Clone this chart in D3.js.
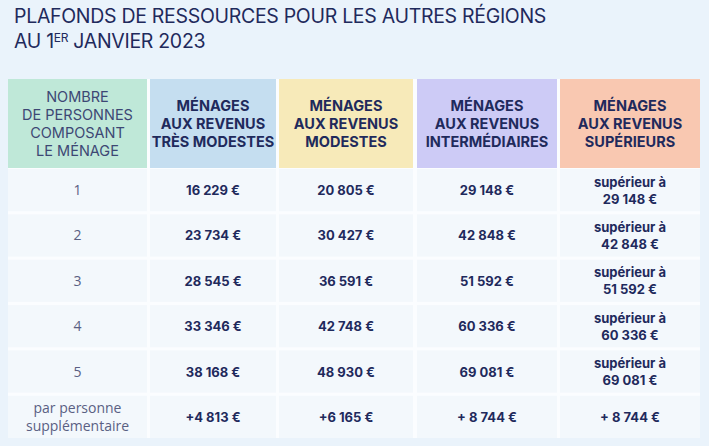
<!DOCTYPE html>
<html lang="fr">
<head>
<meta charset="utf-8">
<script src="https://cdn.jsdelivr.net/npm/d3@7"></script>
<style>
  html, body { margin: 0; padding: 0; background: #eaf3fb; }
  svg { display: block; }
</style>
</head>
<body>
<div id="chart"></div>
<script>
// Table data
const titleLines = ["PLAFONDS DE RESSOURCES POUR LES AUTRES RÉGIONS", "AU 1"];
const rowLabels = [["1"], ["2"], ["3"], ["4"], ["5"], ["par personne", "supplémentaire"]];
const firstHeader = ["NOMBRE", "DE PERSONNES", "COMPOSANT", "LE MÉNAGE"];
const categoryHeaders = [
  ["MÉNAGES", "AUX REVENUS", "TRÈS MODESTES"],
  ["MÉNAGES", "AUX REVENUS", "MODESTES"],
  ["MÉNAGES", "AUX REVENUS", "INTERMÉDIAIRES"],
  ["MÉNAGES", "AUX REVENUS", "SUPÉRIEURS"]
];
const tresModestes = [16229, 23734, 28545, 33346, 38168, 4813];
const modestes = [20805, 30427, 36591, 42748, 48930, 6165];
const intermediaires = [29148, 42848, 51592, 60336, 69081, 8744];
const superieurs = [29148, 42848, 51592, 60336, 69081, 8744];

// Layout
const width = 709, height = 446;
const headerColors = ["#bfe8d8", "#c5def0", "#f7eab9", "#cdcbf6", "#f9c8b1"];
const colEdges = [[8, 147], [150, 276], [279, 413], [417, 557], [560, 700]];
const navy = "#1f2a5c";

const svg = d3.select("#chart").append("svg")
  .attr("width", width)
  .attr("height", height);

svg.append("rect").attr("width", width).attr("height", height).attr("fill", "#eaf3fb");

// Title
const title = svg.append("g").attr("fill", navy)
  .style("font-family", "Inter, sans-serif")
  .style("font-size", "19.5px")
  .style("letter-spacing", "-0.3px");
title.append("text").attr("x", 14).attr("y", 23).text(titleLines[0]);
const t2 = title.append("text").attr("x", 14).attr("y", 48);
t2.append("tspan").text(titleLines[1]);
t2.append("tspan").attr("dy", -6).style("font-size", "12px").text("ER");
t2.append("tspan").attr("dy", 6).text(" JANVIER 2023");

// Scales
const x0 = d3.scaleOrdinal().domain(d3.range(5)).range(colEdges.map((d) => d[0]));
const x1 = d3.scaleOrdinal().domain(d3.range(5)).range(colEdges.map((d) => d[1]));
const y = d3.scaleBand().domain(d3.range(rowLabels.length)).range([169, 438]).paddingInner(0.07);

// White table background (shows as gaps)
svg.append("rect")
  .attr("x", 8).attr("y", 79)
  .attr("width", 692).attr("height", 438 - 79)
  .attr("fill", "#fbfdff");

// Header cells
const headerTop = 79, headerBottom = 168;
const headerG = svg.append("g");
headerG.selectAll("rect")
  .data(d3.range(5))
  .join("rect")
  .attr("x", (d) => x0(d))
  .attr("y", headerTop)
  .attr("width", (d) => x1(d) - x0(d))
  .attr("height", headerBottom - headerTop)
  .attr("fill", (d, i) => headerColors[i]);

const headers = [firstHeader].concat(categoryHeaders);
headers.forEach((lines, i) => {
  const cx = (x0(i) + x1(i)) / 2;
  const cy = (headerTop + headerBottom) / 2;
  const lineH = i === 0 ? 17.8 : 18;
  const text = headerG.append("text")
    .attr("text-anchor", "middle")
    .attr("fill", i === 0 ? "#3d4774" : navy)
    .style("font-family", "Inter, sans-serif")
    .style("font-size", i === 0 ? "14.5px" : "14.5px")
    .style("font-weight", i === 0 ? "400" : "700");
  lines.forEach((l, j) => {
    text.append("tspan")
      .attr("x", cx)
      .attr("y", cy + (j - (lines.length - 1) / 2) * lineH + 5.5)
      .text(l);
  });
});

// Body cells
const fmt = (v) => d3.format(",")(v).replace(/,/g, " ") + " €";
const series = [tresModestes, modestes, intermediaires, superieurs];

const body = svg.append("g");
rowLabels.forEach((label, r) => {
  d3.range(5).forEach((c) => {
    body.append("rect")
      .attr("x", x0(c))
      .attr("y", y(r))
      .attr("width", x1(c) - x0(c))
      .attr("height", y.bandwidth())
      .attr("fill", "#f3f8fc");
  });
});

function cellText(c, r, lines, opts) {
  const cx = (x0(c) + x1(c)) / 2;
  const cy = y(r) + y.bandwidth() / 2;
  const t = body.append("text")
    .attr("text-anchor", "middle")
    .attr("fill", opts.color)
    .style("font-family", opts.family)
    .style("font-size", opts.size)
    .style("font-weight", opts.weight);
  lines.forEach((l, j) => {
    t.append("tspan")
      .attr("x", cx)
      .attr("y", cy + (j - (lines.length - 1) / 2) * opts.gap + 5)
      .text(l);
  });
}

const labelStyle = { color: "#5a6083", family: "'Open Sans', sans-serif", size: "14px", weight: "400", gap: 18 };
const numStyle = { color: navy, family: "Inter, sans-serif", size: "13px", weight: "700", gap: 17 };

rowLabels.forEach((label, r) => {
  cellText(0, r, label, labelStyle);
  const extra = r === rowLabels.length - 1;
  series.forEach((vals, s) => {
    const c = s + 1;
    let lines;
    if (extra) {
      lines = [(s < 2 ? "+" : "+ ") + fmt(vals[r])];
    } else if (s === 3) {
      lines = ["supérieur à", fmt(vals[r])];
    } else {
      lines = [fmt(vals[r])];
    }
    cellText(c, r, lines, numStyle);
  });
});
</script>
</body>
</html>
